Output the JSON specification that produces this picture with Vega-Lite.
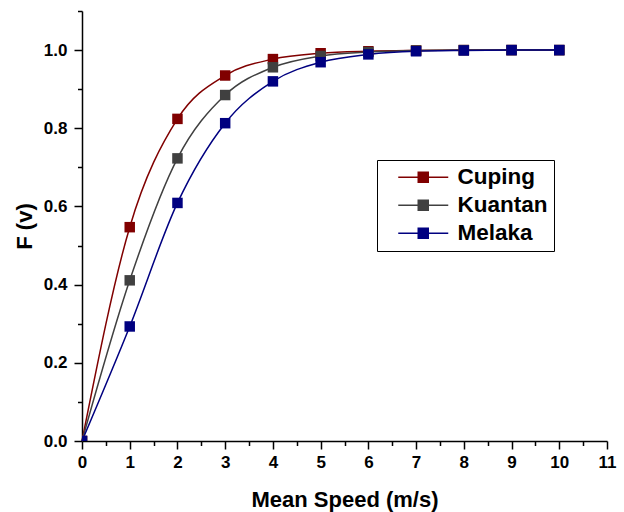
{
  "$schema": "https://vega.github.io/schema/vega-lite/v6.json",
  "width": 525,
  "height": 430,
  "autosize": {"type": "none"},
  "padding": {"left": 82, "top": 11, "right": 17, "bottom": 71},
  "background": "white",
  "config": {
    "view": {"stroke": null},
    "font": "Liberation Sans",
    "axis": {
      "grid": false,
      "domainColor": "#000000",
      "domainWidth": 1.5,
      "tickColor": "#000000",
      "tickWidth": 1.5,
      "labelColor": "#000000",
      "labelFont": "Liberation Sans",
      "labelFontSize": 17,
      "labelFontWeight": "bold",
      "titleColor": "#000000",
      "titleFont": "Liberation Sans",
      "titleFontSize": 22,
      "titleFontWeight": "bold"
    }
  },
  "data": {
    "values": [
      {"series": "Cuping", "speed": 0, "F": 0.0},
      {"series": "Cuping", "speed": 1, "F": 0.547},
      {"series": "Cuping", "speed": 2, "F": 0.824},
      {"series": "Cuping", "speed": 3, "F": 0.935},
      {"series": "Cuping", "speed": 4, "F": 0.977},
      {"series": "Cuping", "speed": 5, "F": 0.992},
      {"series": "Cuping", "speed": 6, "F": 0.997},
      {"series": "Cuping", "speed": 7, "F": 0.999},
      {"series": "Cuping", "speed": 8, "F": 1.0},
      {"series": "Cuping", "speed": 9, "F": 1.0},
      {"series": "Cuping", "speed": 10, "F": 1.0},
      {"series": "Kuantan", "speed": 0, "F": 0.0},
      {"series": "Kuantan", "speed": 1, "F": 0.411},
      {"series": "Kuantan", "speed": 2, "F": 0.723},
      {"series": "Kuantan", "speed": 3, "F": 0.885},
      {"series": "Kuantan", "speed": 4, "F": 0.956},
      {"series": "Kuantan", "speed": 5, "F": 0.985},
      {"series": "Kuantan", "speed": 6, "F": 0.995},
      {"series": "Kuantan", "speed": 7, "F": 0.999},
      {"series": "Kuantan", "speed": 8, "F": 1.0},
      {"series": "Kuantan", "speed": 9, "F": 1.0},
      {"series": "Kuantan", "speed": 10, "F": 1.0},
      {"series": "Melaka", "speed": 0, "F": 0.0},
      {"series": "Melaka", "speed": 1, "F": 0.293},
      {"series": "Melaka", "speed": 2, "F": 0.609},
      {"series": "Melaka", "speed": 3, "F": 0.813},
      {"series": "Melaka", "speed": 4, "F": 0.92},
      {"series": "Melaka", "speed": 5, "F": 0.969},
      {"series": "Melaka", "speed": 6, "F": 0.989},
      {"series": "Melaka", "speed": 7, "F": 0.997},
      {"series": "Melaka", "speed": 8, "F": 0.999},
      {"series": "Melaka", "speed": 9, "F": 1.0},
      {"series": "Melaka", "speed": 10, "F": 1.0}
    ]
  },
  "layer": [
    {
      "mark": {"type": "line", "interpolate": "monotone", "strokeWidth": 1.5},
      "encoding": {
        "x": {
          "field": "speed", "type": "quantitative",
          "scale": {"domain": [0, 11], "nice": false, "zero": false},
          "axis": {
            "values": [0, 1, 2, 3, 4, 5, 6, 7, 8, 9, 10, 11],
            "tickSize": 8, "labelPadding": 5, "title": "Mean Speed (m/s)",
            "titlePadding": 19, "labelFlush": false, "labelOverlap": false
          }
        },
        "y": {
          "field": "F", "type": "quantitative",
          "scale": {"domain": [0, 1.1], "nice": false},
          "axis": {
            "values": [0, 0.2, 0.4, 0.6, 0.8, 1.0], "format": ".1f",
            "tickSize": 8, "labelPadding": 7, "title": "F (v)", "titlePadding": 7,
            "labelFlush": false, "labelOverlap": false
          }
        },
        "color": {
          "field": "series", "type": "nominal",
          "scale": {"domain": ["Cuping", "Kuantan", "Melaka"], "range": ["#800000", "#404040", "#000080"]},
          "legend": {
            "title": null,
            "orient": "none",
            "legendX": 295,
            "legendY": 149,
            "strokeColor": "#000000",
            "padding": 6,
            "symbolType": "M-2.5,0H-0.5M0.5,0H2.5M-0.5,-0.5H0.5V0.5H-0.5Z",
            "symbolSize": 400,
            "symbolStrokeWidth": 1.5,
            "symbolOffset": 29,
            "labelOffset": 23,
            "labelExpr": "datum.label + ' '",
            "labelFont": "Liberation Sans",
            "labelFontSize": 22.5,
            "labelFontWeight": "bold",
            "labelColor": "#000000",
            "rowPadding": 5,
            "symbolOpacity": 1,
            "encoding": {
              "symbols": {
                "update": {
                  "fill": {"scale": "color", "field": "value"},
                  "stroke": {"scale": "color", "field": "value"},
                  "shape": {"value": "M-2.5,0H-0.5M0.5,0H2.5M-0.5,-0.5H0.5V0.5H-0.5Z"},
                  "strokeWidth": {"value": 1.5}
                }
              }
            }
          }
        }
      }
    },
    {
      "mark": {"type": "square", "size": 110, "opacity": 1, "clip": true},
      "encoding": {
        "x": {
          "field": "speed", "type": "quantitative",
          "axis": {
            "orient": "bottom",
            "values": [0.5, 1.5, 2.5, 3.5, 4.5, 5.5, 6.5, 7.5, 8.5, 9.5, 10.5],
            "tickSize": 4.5, "labels": false, "domain": false, "title": null
          }
        },
        "y": {
          "field": "F", "type": "quantitative",
          "axis": {
            "orient": "left",
            "values": [0.1, 0.3, 0.5, 0.7, 0.9, 1.1],
            "tickSize": 4.5, "labels": false, "domain": false, "title": null
          }
        },
        "color": {
          "field": "series", "type": "nominal"
        }
      }
    }
  ],
  "resolve": {"axis": {"x": "independent", "y": "independent"}}
}
